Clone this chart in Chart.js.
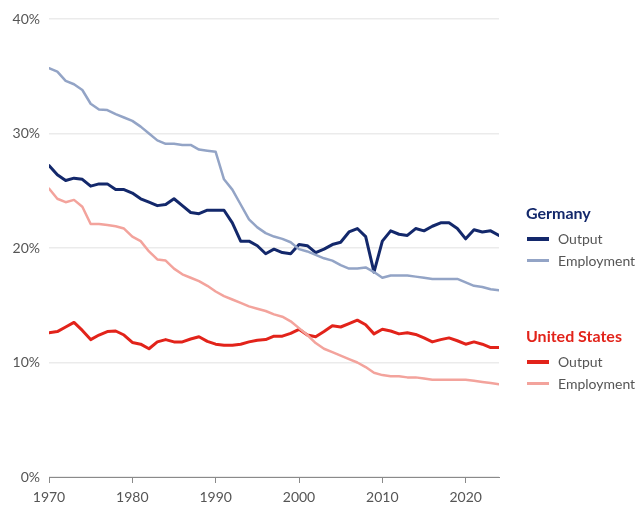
<!DOCTYPE html>
<html>
<head>
<meta charset="utf-8">
<script src="https://cdn.jsdelivr.net/npm/chart.js@4.4.1/dist/chart.umd.min.js"></script>
<style>
  html, body { margin: 0; padding: 0; background: #fff; }
  #wrap { position: relative; width: 640px; height: 506px; }
  canvas { position: absolute; left: 0; top: 0; }
  .lg { position: absolute; font-family: Lato, "Open Sans", sans-serif; white-space: nowrap; }
  .title { font-weight: 700; font-size: 16px; }
  .item { font-size: 14px; color: #555; }
  .sw { position: absolute; width: 22px; height: 4px; }
</style>
</head>
<body>
<div id="wrap">
  <canvas id="c" width="640" height="506"></canvas>
  <div class="lg title" style="left:526px; top:203px; color:#13286b;">Germany</div>
  <div class="sw" style="left:527px; top:237px; background:#13286b;"></div>
  <div class="lg item" style="left:558px; top:230px;">Output</div>
  <div class="sw" style="left:527px; top:259px; height:3px; background:#93a4c6;"></div>
  <div class="lg item" style="left:558px; top:252px;">Employment</div>
  <div class="lg title" style="left:526px; top:326px; color:#e2231a;">United States</div>
  <div class="sw" style="left:527px; top:360px; background:#e2231a;"></div>
  <div class="lg item" style="left:558px; top:353px;">Output</div>
  <div class="sw" style="left:527px; top:382px; height:3px; background:#f3a39c;"></div>
  <div class="lg item" style="left:558px; top:375px;">Employment</div>
</div>
<script>
const years = [];
for (let y = 1970; y <= 2024; y++) years.push(y);

const germanyOutput = [
  27.2, 26.4, 25.9, 26.1, 26.0, 25.4, 25.6, 25.6, 25.1, 25.1,
  24.8, 24.3, 24.0, 23.7, 23.8, 24.3, 23.7, 23.1, 23.0, 23.3,
  23.3, 23.3, 22.2, 20.6, 20.6, 20.2, 19.5, 19.9, 19.6, 19.5,
  20.3, 20.2, 19.6, 19.9, 20.3, 20.5, 21.4, 21.7, 21.0, 17.9,
  20.6, 21.5, 21.2, 21.1, 21.7, 21.5, 21.9, 22.2, 22.2, 21.7,
  20.8, 21.6, 21.4, 21.5, 21.1
];
const germanyEmployment = [
  35.7, 35.4, 34.6, 34.3, 33.8, 32.6, 32.1, 32.05, 31.7, 31.4,
  31.1, 30.6, 30.0, 29.4, 29.1, 29.1, 29.0, 29.0, 28.6, 28.5,
  28.4, 26.0, 25.1, 23.8, 22.5, 21.8, 21.3, 21.0, 20.8, 20.5,
  19.9, 19.7, 19.4, 19.1, 18.9, 18.5, 18.2, 18.2, 18.3, 17.9,
  17.4, 17.6, 17.6, 17.6, 17.5, 17.4, 17.3, 17.3, 17.3, 17.3,
  17.0, 16.7, 16.6, 16.4, 16.3
];
const usOutput = [
  12.6, 12.7, 13.1, 13.5, 12.8, 12.0, 12.4, 12.7, 12.75, 12.4,
  11.75, 11.6, 11.2, 11.8, 12.0, 11.8, 11.8, 12.05, 12.25, 11.85,
  11.6, 11.5, 11.5, 11.6, 11.8, 11.95, 12.0, 12.3, 12.3, 12.55,
  12.9, 12.4, 12.25, 12.7, 13.2, 13.1, 13.4, 13.7, 13.3, 12.5,
  12.9, 12.75, 12.5, 12.6, 12.45, 12.15, 11.8, 12.0, 12.15, 11.9,
  11.6, 11.8, 11.6, 11.3, 11.3
];
const usEmployment = [
  25.2, 24.3, 24.0, 24.2, 23.6, 22.1, 22.1, 22.0, 21.9, 21.7,
  21.0, 20.6, 19.7, 19.0, 18.9, 18.2, 17.7, 17.4, 17.1, 16.7,
  16.2, 15.8, 15.5, 15.2, 14.9, 14.7, 14.5, 14.2, 14.0, 13.6,
  13.0, 12.4, 11.7, 11.2, 10.9, 10.6, 10.3, 10.0, 9.6, 9.1,
  8.9, 8.8, 8.8, 8.7, 8.7, 8.6, 8.5, 8.5, 8.5, 8.5,
  8.5, 8.4, 8.3, 8.2, 8.1
];
const xTickValues = [1970, 1980, 1990, 2000, 2010, 2020];
const yTickValues = [0, 10, 20, 30, 40];

const pts = arr => arr.map((v, i) => ({ x: years[i], y: v }));

new Chart(document.getElementById('c'), {
  type: 'line',
  data: {
    datasets: [
      { label: 'US Employment', data: pts(usEmployment), borderColor: '#f3a39c', borderWidth: 2.5 },
      { label: 'Germany Employment', data: pts(germanyEmployment), borderColor: '#93a4c6', borderWidth: 2.5 },
      { label: 'US Output', data: pts(usOutput), borderColor: '#e2231a', borderWidth: 3 },
      { label: 'Germany Output', data: pts(germanyOutput), borderColor: '#13286b', borderWidth: 3 }
    ]
  },
  options: {
    responsive: false,
    animation: false,
    events: [],
    elements: { point: { radius: 0 }, line: { tension: 0, borderJoinStyle: 'round', borderCapStyle: 'round' } },
    layout: { padding: { top: 19, right: 141, left: 0, bottom: 0 } },
    plugins: { legend: { display: false }, tooltip: { enabled: false } },
    scales: {
      x: {
        type: 'linear',
        min: 1970,
        max: 2024,
        afterBuildTicks: s => { s.ticks = xTickValues.map(v => ({ value: v })); },
        afterFit: s => { s.height = 29; },
        grid: { drawOnChartArea: false, drawTicks: true, tickLength: 6, color: '#8a8a8a' },
        border: { display: true, color: '#8a8a8a', width: 1 },
        ticks: { color: '#555', padding: 6, maxRotation: 0, font: { family: 'Lato', size: 14 }, callback: v => String(v) }
      },
      y: {
        min: 0,
        max: 40,
        afterBuildTicks: s => { s.ticks = yTickValues.map(v => ({ value: v })); },
        afterFit: s => { s.width = 49; },
        grid: { color: '#ebebeb', drawTicks: false, lineWidth: 1.5 },
        border: { display: false },
        ticks: { color: '#555', padding: 9, font: { family: 'Lato', size: 14 }, callback: v => v + '%' }
      }
    }
  }
});
</script>
</body>
</html>
